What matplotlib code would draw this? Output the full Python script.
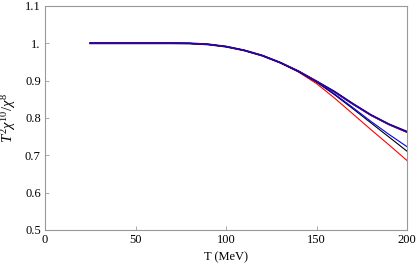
import matplotlib
matplotlib.use("Agg")
import matplotlib.pyplot as plt

plt.rcParams['font.family'] = ['Liberation Serif', 'DejaVu Serif']
plt.rcParams['mathtext.fontset'] = 'custom'
plt.rcParams['mathtext.rm'] = 'Liberation Serif'
plt.rcParams['mathtext.it'] = 'Liberation Serif:italic'

# temperature grid (MeV)
T = [25, 50, 70, 80, 90, 100, 110, 120, 130, 140, 150, 160, 170, 180, 190, 200]

# common low-T part, then the curves split above ~140 MeV
common = [1.0, 1.0, 1.0, 0.9995, 0.997, 0.991, 0.981, 0.967, 0.948, 0.925]
top_black = common + [0.898, 0.870, 0.838, 0.808, 0.783, 0.763]
top_red = common + [0.898, 0.869, 0.837, 0.807, 0.782, 0.761]
top_blue = common + [0.898, 0.870, 0.838, 0.808, 0.783, 0.762]
low_blue = common + [0.897, 0.864, 0.828, 0.791, 0.756, 0.723]
low_black = common + [0.896, 0.862, 0.825, 0.787, 0.749, 0.711]
low_red = common[:-1] + [0.923, 0.892, 0.853, 0.811, 0.769, 0.728, 0.686]

xticks = [0, 50, 100, 150, 200]
yticks = [0.5, 0.6, 0.7, 0.8, 0.9, 1.0, 1.1]
ylabels = ['0.5', '0.6', '0.7', '0.8', '0.9', '1.', '1.1']

fig = plt.figure(figsize=(4.17, 2.68), dpi=100)
ax = fig.add_axes([0.108, 0.142, 0.868, 0.836])

ax.plot(T, low_red, color='red', lw=0.8)
ax.plot(T, low_black, color='black', lw=0.8)
ax.plot(T, low_blue, color='blue', lw=0.8)
ax.plot(T, top_black, color='black', lw=1.4)
ax.plot(T, top_red, color='red', lw=0.8)
ax.plot(T, top_blue, color='blue', lw=0.8)

ax.set_xlim(0, 200)
ax.set_ylim(0.5, 1.1)
ax.set_xticks(xticks)
ax.set_yticks(yticks)
ax.set_yticklabels(ylabels)
ax.tick_params(direction='in', length=3, width=0.6, color='#999999',
               labelsize=9, pad=3)
for s in ax.spines.values():
    s.set_color('#999999')
    s.set_linewidth(0.8)

ax.set_xlabel('T (MeV)', fontsize=9, labelpad=4)
ax.set_ylabel(r'$T^2\chi^{10}/\chi^8$', fontsize=10.5, labelpad=5)

fig.savefig('out.png', dpi=100)
